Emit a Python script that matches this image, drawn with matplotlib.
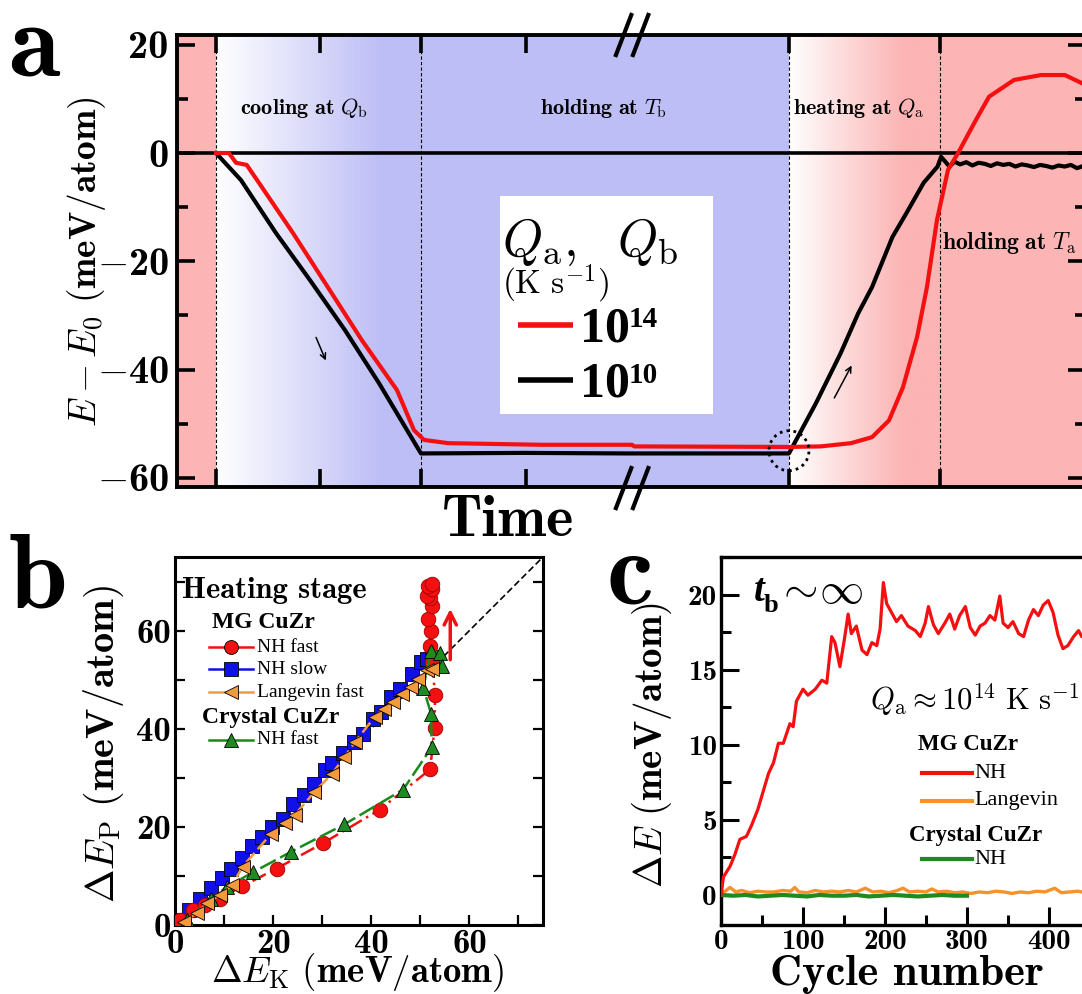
import numpy as np
import matplotlib.pyplot as plt
from matplotlib.lines import Line2D
from matplotlib.patches import Ellipse, Rectangle
from matplotlib.ticker import FuncFormatter, MultipleLocator, FixedLocator

plt.rcParams['mathtext.fontset'] = 'cm'
plt.rcParams['font.family'] = 'DejaVu Serif'

# ---------------- data, panel a (time in arb. units, E-E0 in meV/atom)
t_fast = [0, 0.063, 0.098, 0.15, 0.224, 0.376, 0.546, 0.712, 0.883, 0.966, 1.015, 1.132,
          1.585, 2.03, 2.04, 2.795, 2.95, 3.098, 3.2, 3.283, 3.351, 3.42, 3.468, 3.517,
          3.571, 3.62, 3.707, 3.771, 3.893, 4.024, 4.141, 4.224, 4.27]
E_fast = [0, 0, -1.8, -2.2, -6.3, -14.8, -24.8, -34.6, -43.8, -51.2, -53.0, -53.6,
          -53.9, -53.9, -54.2, -54.3, -54.2, -53.6, -52.5, -49.4, -43.3, -34.0, -24.8, -12.4,
          -3.1, 0, 6.1, 10.4, 13.5, 14.4, 14.4, 12.9, 12.2]

t_slow = [0, 0.122, 0.293, 0.459, 0.629, 0.795, 1.0, 1.5, 2.0, 2.795, 2.927, 3.047, 3.133,
          3.2, 3.3, 3.368, 3.452, 3.52, 3.537, 3.578, 3.603, 3.63, 3.66, 3.69, 3.72, 3.75,
          3.78, 3.81, 3.84, 3.87, 3.90, 3.93, 3.96, 3.99, 4.02, 4.05, 4.08, 4.11, 4.14,
          4.17, 4.20, 4.23, 4.26]
E_slow = [0, -5.0, -14.8, -23.5, -32.7, -42.5, -55.5, -55.4, -55.5, -55.5, -46.2, -37.0, -29.6,
          -24.8, -15.5, -11.1, -5.5, -2.5, -0.7, -2.5, -1.6, -2.1, -1.7, -2.3, -1.8, -2.0,
          -2.4, -1.9, -2.2, -2.0, -2.5, -2.1, -2.3, -2.6, -2.2, -2.4, -2.7, -2.3, -2.5,
          -2.2, -2.8, -2.4, -2.6]

# ---------------- data, panel b (heating stage)
ek_nh_fast = [1.1, 3.6, 6.2, 9.1, 13.7, 20.7, 30.2, 41.7, 52.0, 52.9, 53.0, 52.4, 52.0, 52.2,
              51.6, 52.3, 52.0, 51.3, 52.3, 51.6, 52.3]
ep_nh_fast = [1.0, 3.1, 4.1, 5.4, 7.9, 11.5, 16.7, 23.5, 31.7, 40.1, 46.9, 53.5, 56.9, 59.9,
              62.3, 65.0, 66.6, 67.0, 68.4, 69.0, 69.4]
ek_nh_slow = [0.7, 2.9, 5.1, 7.3, 9.5, 11.5, 13.6, 15.6, 17.8, 19.8, 22.0, 24.1, 26.3, 28.4,
              30.5, 32.0, 34.2, 36.4, 38.4, 40.4, 42.0, 44.1, 45.8, 48.4, 50.2, 51.3, 52.4]
ep_nh_slow = [1.0, 3.1, 5.4, 7.5, 9.5, 11.5, 13.7, 16.1, 18.0, 19.9, 21.7, 24.7, 26.4, 28.8,
              31.5, 33.0, 35.1, 37.3, 39.0, 42.0, 43.4, 46.4, 48.1, 51.1, 53.6, 54.2, 54.6]
ek_lang = [1.8, 4.4, 6.5, 9.1, 11.6, 13.8, 19.6, 22.5, 24.4, 28.4, 32.0, 34.5, 36.7, 40.7,
           42.5, 44.4, 46.2, 48.0, 49.5, 51.3, 52.4]
ep_lang = [0.7, 2.4, 4.4, 6.1, 8.1, 11.9, 18.6, 20.7, 22.4, 27.1, 30.8, 34.2, 37.3, 42.4,
           44.1, 45.4, 47.1, 48.5, 50.2, 51.9, 52.2]
ek_cryst = [2.5, 7.3, 10.5, 15.8, 23.6, 34.5, 46.5, 52.3, 52.2, 50.6, 52.2, 54.0, 54.4]
ep_cryst = [1.0, 5.4, 7.7, 10.7, 14.9, 20.5, 27.6, 36.2, 43.0, 48.4, 55.8, 55.5, 52.8]

# ---------------- data, panel c (cycling)
cyc_nh = [0, 3, 11, 17, 23, 31, 37, 45, 52, 58, 64, 70, 76, 84, 88, 92, 96, 100, 106, 115,
          123, 129, 135, 139, 145, 151, 155, 159, 165, 172, 178, 184, 190, 194, 198, 202,
          208, 214, 220, 228, 237, 243, 249, 253, 259, 265, 273, 279, 285, 291, 298, 304,
          310, 316, 322, 328, 334, 340, 344, 350, 356, 363, 369, 375, 381, 387, 393, 399,
          405, 411, 417, 423, 430, 436, 440, 446]
de_nh = [0.0, 1.2, 1.9, 2.7, 3.7, 3.9, 4.6, 5.7, 7.0, 8.1, 8.8, 10.1, 10.1, 11.4, 11.2, 12.9,
         13.3, 13.7, 13.3, 13.7, 14.3, 14.1, 17.2, 16.8, 15.2, 17.2, 18.7, 17.4, 17.9, 16.3,
         16.0, 16.8, 16.6, 17.7, 20.8, 19.4, 18.8, 18.2, 18.6, 17.9, 17.6, 17.2, 18.1, 19.2,
         18.0, 17.4, 18.1, 18.7, 17.7, 18.6, 19.2, 17.8, 17.3, 17.9, 18.1, 18.6, 18.3, 19.9,
         18.1, 17.8, 18.2, 17.4, 17.2, 18.3, 19.0, 18.6, 19.3, 19.6, 18.8, 17.3, 16.4, 16.6,
         17.2, 17.6, 17.2, 17.4]
cyc_lang = [0, 5, 11, 18, 25, 35, 45, 55, 65, 75, 85, 90, 95, 105, 115, 125, 135, 145, 155,
            165, 176, 185, 195, 205, 215, 222, 230, 240, 250, 257, 265, 275, 285, 295, 305,
            315, 325, 335, 345, 355, 365, 375, 385, 395, 407, 415, 425, 435, 445, 455]
de_lang = [0.1, 0.25, 0.5, 0.2, 0.3, 0.15, 0.25, 0.2, 0.2, 0.3, 0.25, 0.5, 0.2, 0.15, 0.3,
           0.2, 0.25, 0.2, 0.3, 0.2, 0.45, 0.2, 0.25, 0.15, 0.3, 0.45, 0.2, 0.25, 0.2, 0.4,
           0.2, 0.25, 0.15, 0.2, 0.1, 0.2, 0.15, 0.25, 0.2, 0.1, 0.2, 0.15, 0.25, 0.2, 0.45,
           0.15, 0.2, 0.25, 0.15, 0.2]
cyc_cryst = [0, 15, 30, 45, 60, 75, 90, 105, 120, 135, 150, 165, 180, 195, 210, 225, 240,
             255, 270, 285, 300]
de_cryst = [0.0, -0.05, 0.0, -0.1, -0.05, 0.0, -0.05, -0.1, 0.0, -0.05, -0.05, 0.0, -0.1,
            -0.05, 0.0, -0.05, -0.1, -0.05, 0.0, -0.05, -0.05]
cycle_ticks = [0, 100, 200, 300, 400]

W, H = 1082, 994
fig = plt.figure(figsize=(W / 100, H / 100), dpi=100)


def fx(px):
    return px / W


def fy(py):
    return 1 - py / H


def bold_num(v, p):
    n = int(round(v))
    if n < 0:
        return r'$-$' + str(-n)
    return str(n)


pink = np.array([252, 180, 180]) / 255
blue = np.array([190, 190, 246]) / 255
white = np.array([1.0, 1.0, 1.0])
RED = '#f41010'
CMB = 'cmb10'

# ================= panel a
ax = fig.add_axes([fx(177), fy(487), fx(1086 - 177), (487 - 35) / H])
ylo, yhi = -61.7, 21.8


def gradient(x0, x1, c0, c1, full_at):
    frac = np.clip(np.linspace(0, 1, 256) / full_at, 0, 1)
    img = c0[None, :] + (c1 - c0)[None, :] * frac[:, None]
    ax.imshow(img[None, :, :], extent=[x0, x1, ylo, yhi], aspect='auto', zorder=0,
              interpolation='bilinear')


ax.axvspan(-0.3, 0, color=pink, zorder=0, lw=0)
gradient(0, 1, white, blue, 0.8)
ax.axvspan(1, 2.795, color=blue, zorder=0, lw=0)
gradient(2.795, 3.532, white, pink, 0.75)
ax.axvspan(3.532, 4.5, color=pink, zorder=0, lw=0)
for tv in [0, 1, 2.795, 3.532]:
    ax.axvline(tv, color='k', lw=0.8, ls=(0, (3, 2)), zorder=1)
ax.axhline(0, color='k', lw=2.6, zorder=2)

ax.add_patch(Rectangle((1.385, -48.2), 1.039, 40.3, facecolor='white', edgecolor='none',
                       zorder=2.5))
ax.plot(t_slow, E_slow, color='k', lw=3, zorder=3)
ax.plot(t_fast, E_fast, color=RED, lw=3, zorder=4)

ax.add_patch(Ellipse((2.795, -55), 40 / 205, 40 / 5.41, fill=False, ls=(0, (1, 1.5)),
                     lw=2, ec='k', zorder=5))
ax.annotate('', xy=(0.541, -38.8), xytext=(0.483, -33.6),
            arrowprops=dict(arrowstyle='->', lw=1.1, color='k'))
ax.annotate('', xy=(3.107, -38.8), xytext=(3.01, -45.7),
            arrowprops=dict(arrowstyle='->', lw=1.1, color='k'))

ax.text(0.117, 8.3, r'$\mathbf{cooling\ at}\ Q_\mathrm{b}$', fontsize=16, va='center')
ax.text(1.58, 8.3, r'$\mathbf{holding\ at}\ T_\mathrm{b}$', fontsize=16, va='center')
ax.text(2.815, 8.3, r'$\mathbf{heating\ at}\ Q_\mathrm{a}$', fontsize=16, va='center')
ax.text(3.54, -16.6, r'$\mathbf{holding\ at}\ T_\mathrm{a}$', fontsize=17, va='center')

# legend box of panel a
ax.text(1.395, -19.0, r'$Q_\mathrm{a},\ \ Q_\mathrm{b}$', fontsize=37, va='baseline', zorder=6)
ax.text(1.395, -26.0, r'$(\mathrm{K\ s}^{-1})$', fontsize=24, va='baseline', zorder=6)
for yv, col, ex in [(-31.8, RED, '14'), (-42.0, 'k', '10')]:
    ax.plot([1.473, 1.74], [yv, yv], color=col, lw=4, zorder=6, solid_capstyle='butt')
    tx = ax.text(1.775, yv - 0.8, '10', fontsize=36, fontweight='bold', va='center',
                 family='Liberation Serif', zorder=6)
    ax.annotate(ex, xy=(0.98, 1.0), xycoords=tx, fontsize=21, fontweight='bold',
                family='Liberation Serif', va='top', ha='left', zorder=6)

# axis break marks
for x0 in [1.951, 2.034]:
    ax.plot([x0, x0 + 0.075], [18.1, 25.5], color='k', lw=3, clip_on=False, zorder=7)
    ax.plot([x0, x0 + 0.075], [-65.6, -58.2], color='k', lw=3, clip_on=False, zorder=7)

ax.set_xlim(-0.19, 4.244)
ax.set_ylim(ylo, yhi)
ax.xaxis.set_major_locator(FixedLocator([0, 0.507, 1, 1.512, 2.795, 3.532]))
ax.xaxis.set_major_formatter(FuncFormatter(lambda v, p: ''))
ax.yaxis.set_major_locator(MultipleLocator(20))
ax.yaxis.set_minor_locator(MultipleLocator(10))
ax.yaxis.set_major_formatter(FuncFormatter(bold_num))
ax.tick_params(which='both', direction='in', top=True, right=True, width=2.6)
ax.tick_params(which='major', length=13, labelsize=29, pad=6, labelfontfamily=CMB)
ax.tick_params(which='minor', length=8)
for s in ax.spines.values():
    s.set_linewidth(2.8)
    s.set_zorder(8)

fig.text(fx(86), fy(262), r'$E-E_0\ \mathbf{(meV/atom)}$', fontsize=27, rotation=90,
         ha='center', va='center')
fig.text(fx(508), fy(522), 'Time', family=CMB, fontsize=42, ha='center', va='center')

# ================= panel b
bx = fig.add_axes([fx(175), fy(925), fx(543 - 175), (925 - 557) / H])
bx.plot([0, 75], [0, 75], color='k', lw=1.2, ls=(0, (4, 2)), zorder=1)
bx.plot(ek_lang, ep_lang, color='#f39a3c', lw=1.8, ls=(0, (5, 2)), marker='<', ms=10,
        mfc='#f39a3c', mec='k', mew=0.6, zorder=3)
bx.plot(ek_nh_slow, ep_nh_slow, color='#1010e0', lw=1.8, ls=(0, (5, 2)), marker='s', ms=9.5,
        mfc='#1010e8', mec='k', mew=0.6, zorder=2.5)
bx.plot(ek_cryst, ep_cryst, color='#1a8a1a', lw=1.8, ls=(0, (7, 2)), marker='^', ms=10.5,
        mfc='#1f8a1f', mec='k', mew=0.6, zorder=2.8)
bx.plot(ek_nh_fast, ep_nh_fast, color=RED, lw=1.8, ls=(0, (6, 2, 1, 2)), marker='o', ms=10.5,
        mfc=RED, mec='#a00000', mew=0.6, zorder=2.6)
bx.annotate('', xy=(56.1, 65), xytext=(56.1, 53.5),
            arrowprops=dict(arrowstyle='->', lw=2.5, color=RED, mutation_scale=22))
bx.set_xlim(0, 75)
bx.set_ylim(0, 75)
for axis in [bx.xaxis, bx.yaxis]:
    axis.set_major_locator(MultipleLocator(20))
    axis.set_minor_locator(MultipleLocator(10))
    axis.set_major_formatter(FuncFormatter(bold_num))
bx.tick_params(which='both', direction='in', right=True, width=1.6, length=7)
bx.tick_params(which='major', labelsize=25, pad=3, labelfontfamily=CMB)
for s in bx.spines.values():
    s.set_linewidth(2.2)

fig.text(fx(104), fy(744), r'$\Delta E_\mathrm{P}\ \mathbf{(meV/atom)}$', fontsize=29,
         rotation=90, ha='center', va='center')
fig.text(fx(358), fy(973), r'$\Delta E_\mathrm{K}\ \mathbf{(meV/atom)}$', fontsize=26.5,
         ha='center', va='center')

# legend of panel b
fig.text(fx(182), fy(590), 'Heating stage', family=CMB, fontsize=22, va='center')
fig.text(fx(212), fy(623), 'MG CuZr', fontsize=17, fontweight='bold',
         family='Liberation Serif', va='center')
fig.text(fx(202), fy(718), 'Crystal CuZr', fontsize=17, fontweight='bold',
         family='Liberation Serif', va='center')
for py, col, mk, mfc, lab in [(647, RED, 'o', RED, 'NH fast'),
                               (669, '#1010e0', 's', '#1010e8', 'NH slow'),
                               (692, '#f39a3c', '<', '#f39a3c', 'Langevin fast'),
                               (740, '#1a8a1a', '^', '#1f8a1f', 'NH fast')]:
    fig.add_artist(Line2D([fx(209), fx(231), fx(253)], [fy(py)] * 3, color=col, lw=1.8,
                          marker=mk, markevery=[1], ms=10, mfc=mfc, mec='k', mew=0.6,
                          transform=fig.transFigure))
    fig.text(fx(257), fy(py), lab, fontsize=14, family='Liberation Serif', va='center')

# ================= panel c
cx = fig.add_axes([fx(721), fy(925), fx(410), (925 - 557) / H])
cx.plot(cyc_lang, de_lang, color='#f5922c', lw=2.4, zorder=2)
cx.plot(cyc_cryst, de_cryst, color='#1f8a1f', lw=3, zorder=3)
cx.plot(cyc_nh, de_nh, color=RED, lw=2.3, zorder=4)
cx.set_xlim(0, 500)
cx.set_ylim(-2, 22.5)
cx.xaxis.set_major_locator(FixedLocator(cycle_ticks))
cx.xaxis.set_minor_locator(MultipleLocator(50))
cx.yaxis.set_major_locator(MultipleLocator(5))
cx.yaxis.set_minor_locator(MultipleLocator(2.5))
cx.xaxis.set_major_formatter(FuncFormatter(bold_num))
cx.yaxis.set_major_formatter(FuncFormatter(bold_num))
cx.tick_params(which='both', direction='in', width=2.2)
cx.tick_params(which='major', length=13, labelsize=21, pad=3, labelfontfamily=CMB)
cx.tick_params(which='minor', length=7)
for s in cx.spines.values():
    s.set_linewidth(2.4)

fig.text(fx(652), fy(745), r'$\Delta E\ \mathbf{(meV/atom)}$', fontsize=28, rotation=90,
         ha='center', va='center')
fig.text(fx(907), fy(975), 'Cycle number', family=CMB, fontsize=32, ha='center',
         va='center')

# t_b ~ infinity
fig.text(fx(754), fy(601), 't', fontsize=28, fontweight='bold', fontstyle='italic',
         family='Liberation Serif', va='baseline')
fig.text(fx(764), fy(612), 'b', fontsize=19, fontweight='bold',
         family='Liberation Serif', va='baseline')
fig.text(fx(776), fy(590), r'$\sim\!\infty$', fontsize=32, va='center')

# legend of panel c
fig.text(fx(870), fy(700), r'$Q_\mathrm{a}\approx 10^{14}\ \mathrm{K\ s}^{-1}$', fontsize=22,
         va='center')
fig.text(fx(918), fy(745), 'MG CuZr', fontsize=16.5, fontweight='bold',
         family='Liberation Serif', va='center')
fig.text(fx(909), fy(835), 'Crystal CuZr', fontsize=16.5, fontweight='bold',
         family='Liberation Serif', va='center')
for py, col, lab in [(773, RED, 'NH'), (801, '#f5922c', 'Langevin'), (859, '#1f8a1f', 'NH')]:
    fig.add_artist(Line2D([fx(922), fx(972)], [fy(py)] * 2, color=col, lw=3,
                          transform=fig.transFigure))
    fig.text(fx(974), fy(py), lab, fontsize=16, family='Liberation Serif', va='center')

# panel letters
fig.text(fx(8), fy(75), 'a', family=CMB, fontsize=76, va='baseline')
fig.text(fx(8), fy(608), 'b', family=CMB, fontsize=76, va='baseline')
fig.text(fx(607), fy(604), 'c', family=CMB, fontsize=76, va='baseline')

fig.savefig('out.png', dpi=100)
